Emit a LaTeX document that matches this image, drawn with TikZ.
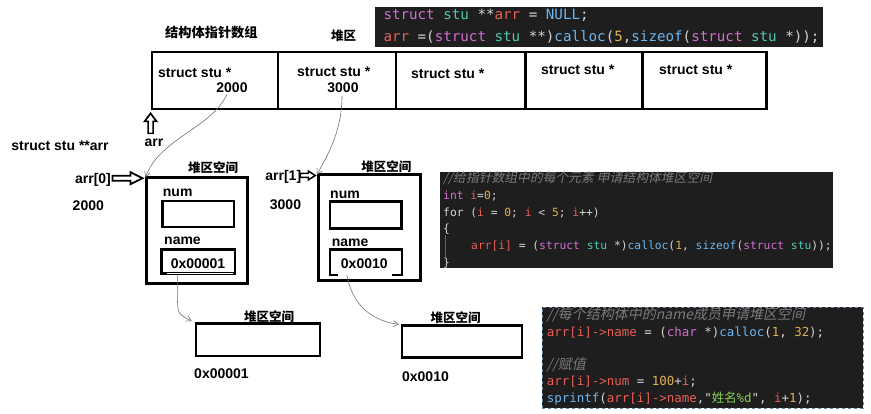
\documentclass[tikz,border=0pt]{standalone}
\usepackage{fontspec}
\setmainfont{Liberation Sans}
\newfontfamily\cjk{Noto Sans CJK SC}
\newfontfamily\cjksl{Noto Sans CJK SC}[FakeSlant=0.2]
\newfontfamily\mono{DejaVu Sans Mono}
\usetikzlibrary{arrows.meta,calc}
\definecolor{codebg}{HTML}{1E1E1E}
\definecolor{cpu}{HTML}{D4D4D4}
\definecolor{ckw}{HTML}{D16FD1}
\definecolor{cty}{HTML}{4EC9B0}
\definecolor{cva}{HTML}{EA5F57}
\definecolor{cfn}{HTML}{6CB6F0}
\definecolor{cnu}{HTML}{E0B050}
\definecolor{ccm}{HTML}{7A7A7A}
\definecolor{cst}{HTML}{8BD04E}
\definecolor{selb}{HTML}{6A88AA}
\newcommand{\Kw}[1]{\textcolor{ckw}{#1}}
\newcommand{\Ty}[1]{\textcolor{cty}{#1}}
\newcommand{\Va}[1]{\textcolor{cva}{#1}}
\newcommand{\Fn}[1]{\textcolor{cfn}{#1}}
\newcommand{\Nu}[1]{\textcolor{cnu}{#1}}
\newcommand{\St}[1]{\textcolor{cst}{#1}}
\begin{document}
\begin{tikzpicture}[x=1pt,y=-1pt,
  lab/.style={font=\bfseries\fontsize{14}{16}\selectfont, inner sep=0pt},
  cjklab/.style={font=\cjk\bfseries\fontsize{12.5}{14}\selectfont, inner sep=0pt},
  cell/.style={draw, line width=2.8pt, minimum height=57pt, inner sep=0pt},
  sbox/.style={draw, line width=3pt, inner sep=0pt},
  ibox/.style={draw, line width=2.6pt, inner sep=0pt},
  hollow/.style={draw=black, line width=1.7pt, fill=white, line join=miter},
  conn/.style={draw=black!55, line width=0.6pt, -{Straight Barb[length=5pt,width=6pt]}},
  codebox/.style={fill=codebg, inner sep=0pt},
  codeA/.style={font=\mono\fontsize{14.2}{16}\selectfont, anchor=west, inner sep=0pt, text=cpu, text height=10pt, text depth=3pt},
  codeB/.style={font=\mono\fontsize{11.3}{13}\selectfont, anchor=west, inner sep=0pt, text=cpu, text height=8pt, text depth=2.5pt},
  codeC/.style={font=\mono\fontsize{12.45}{14}\selectfont, anchor=west, inner sep=0pt, text=cpu, text height=9pt, text depth=2.5pt}
]
\useasboundingbox (0,0) rectangle (871,414);
\fill[white] (0,0) rectangle (871,414);

% code box 1
\node[codebox, minimum width=448pt, minimum height=40pt] (code1) at (598.5,27.5) {};
\node[codeA] (c1l1) at (383.3,16) {\Kw{struct} \Ty{stu} **\Va{arr} = \Fn{NULL};};
\node[codeA] (c1l2) at (383.3,38) {\Va{arr} =(\Kw{struct} \Ty{stu} **)\Fn{calloc}(\Nu{5},\Fn{sizeof}(\Kw{struct} \Ty{stu} *));};

% titles
\node[cjklab, font=\cjk\bfseries\fontsize{13.2}{15}\selectfont, anchor=west] (title) at (165,33) {结构体指针数组};
\node[cjklab, anchor=west] (heap) at (331,36) {堆区};

% array cells
\node[cell, minimum width=126pt] (c1) at (215,80.5) {};
\node[cell, minimum width=118pt] (c2) at (337,80.5) {};
\node[cell, minimum width=130pt] (c3) at (461,80.5) {};
\node[cell, minimum width=117pt] (c4) at (584.3,80.5) {};
\node[cell, minimum width=123.5pt] (c5) at (704.7,80.5) {};
\node[lab, anchor=west] (t1) at (158,73) {struct stu *};
\node[lab] (v1) at (232,88) {2000};
\node[lab, anchor=west] (t2) at (297,72) {struct stu *};
\node[lab] (v2) at (343,88) {3000};
\node[lab, anchor=west] (t3) at (411,74) {struct stu *};
\node[lab, anchor=west] (t4) at (541,70) {struct stu *};
\node[lab, anchor=west] (t5) at (659,70) {struct stu *};

% arr pointer
\draw[hollow] ([yshift=-3pt]c1.south west) -- ++(6,8) -- ++(-3.5,0) -- ++(0,12) -- ++(-5,0) -- ++(0,-12) -- ++(-3.5,0) -- cycle;
\node[lab] (arrlab) at (154,143) {arr};
\node[lab] (pp) at (60,146) {struct stu **arr};

% struct 1
\node[sbox, minimum width=101.7pt, minimum height=106.3pt] (s1) at (196.85,230.85) {};
\node[cjklab] (s1t) at (213,168) {堆区空间};
\node[lab, anchor=west] (s1num) at (162.7,193) {num};
\node[ibox, minimum width=71.3pt, minimum height=26pt] (num1) at (198.35,214) {};
\node[lab, anchor=west] (s1name) at (164,241) {name};
\node[ibox, minimum width=73.3pt, minimum height=24pt] (name1) at (198.35,261.3) {};
\draw[white, line width=2.4pt] ([xshift=7pt]name1.south west) -- ([xshift=-3pt]name1.south east);
\draw[black, line width=0.8pt] ([xshift=7pt,yshift=0.6pt]name1.south west) -- ([xshift=-3pt,yshift=0.6pt]name1.south east);
\node[lab, font=\fontsize{14}{16}\selectfont\bfseries] (name1v) at (198,263.3) {0x00001};
\node[lab] (a0) at (93,180) {arr[0]};
\node[lab] (a0v) at (88.3,205.5) {2000};
\draw[hollow] ([xshift=-2pt,yshift=-2pt]s1.north west) -- ++(-12,-6) -- ++(0,3.5) -- ++(-18,0) -- ++(0,5) -- ++(18,0) -- ++(0,3.5) -- cycle;

% struct 2
\node[sbox, minimum width=102.4pt, minimum height=105.7pt] (s2) at (369.5,227.85) {};
\node[cjklab] (s2t) at (386.3,166.7) {堆区空间};
\node[lab, anchor=west] (s2num) at (330,195) {num};
\node[ibox, minimum width=71.7pt, minimum height=26.6pt] (num2) at (365.85,215) {};
\node[lab, anchor=west] (s2name) at (331.7,243) {name};
\node[inner sep=0pt, minimum width=71.7pt, minimum height=25pt] (name2) at (365.85,262.5) {};
\draw[line width=2.6pt] ([xshift=8pt]name2.south west) -- (name2.south west) -- (name2.north west) -- (name2.north east) -- (name2.south east) -- ([xshift=-10pt]name2.south east);
\node[lab] (name2v) at (364.3,263.3) {0x0010};
\node[lab] (a1) at (283.3,176.7) {arr[1]};
\node[lab] (a1v) at (285.5,205) {3000};
\draw[hollow, line width=1.5pt] ([xshift=-1.5pt,yshift=-2pt]s2.north west) -- ++(-7,-4.5) -- ++(0,2.5) -- ++(-8,0) -- ++(0,4) -- ++(8,0) -- ++(0,2.5) -- cycle;

% heap boxes for names
\node[ibox, minimum width=124pt, minimum height=32.7pt] (h1) at (258,339.7) {};
\node[cjklab] (h1t) at (269,317) {堆区空间};
\node[lab] (h1v) at (221.5,374) {0x00001};
\node[ibox, minimum width=120pt, minimum height=32pt] (h2) at (462,341.7) {};
\node[cjklab] (h2t) at (455.5,318) {堆区空间};
\node[lab] (h2v) at (425.5,377) {0x0010};

% connectors
\draw[conn] ([xshift=-5pt,yshift=-1pt]v1.south) .. controls (212,128) and (160,138) .. ([xshift=1pt,yshift=-1pt]s1.north west);
\draw[conn] ([xshift=-1pt,yshift=-3pt]v2.south) .. controls (342,128) and (330,152) .. ([xshift=0pt,yshift=-1pt]s2.north west);
\draw[conn] ([xshift=-21pt]name1.south) -- ++(0,24) .. controls (178,314) .. ([xshift=-3pt,yshift=1pt]h1.north west);
\draw[conn] ([xshift=-19pt]name2.south) .. controls (352,302) and (368,320) .. ([xshift=-2pt,yshift=0pt]h2.north west);

% code box 2
\node[codebox, minimum width=393pt, minimum height=96.3pt] (code2) at (636.5,219.85) {};
\node[codeB, font=\cjksl\fontsize{12.8}{14}\selectfont, text=ccm] (c2l1) at (443,180) {//给指针数组中的每个元素 申请结构体堆区空间};
\node[codeB] (c2l2) at (443,196.7) {\Kw{int} \Va{i}=\Nu{0};};
\node[codeB] (c2l3) at (443,213.3) {for (\Va{i} = \Nu{0}; \Va{i} < \Nu{5}; \Va{i}++)};
\node[codeB] (c2l4) at (443,230) {\{};
\node[codeB] (c2l5) at (471,246.7) {\Va{arr[i]} = (\Kw{struct} \Ty{stu} *)\Fn{calloc}(\Nu{1}, \Fn{sizeof}(\Kw{struct} \Ty{stu}));};
\node[codeB] (c2l6) at (443,263.3) {\}};
\draw[black!60, line width=0.5pt] ([xshift=2pt]c2l4.south west) -- ([xshift=2pt]c2l6.north west);

% code box 3
\node[codebox, draw=selb, dashed, line width=0.6pt, minimum width=320.7pt, minimum height=100.7pt] (code3) at (702.65,357.65) {};
\node[codeC, font=\cjksl\fontsize{14}{15}\selectfont, text=ccm] (c3l1) at (546.7,316) {//每个结构体中的name成员申请堆区空间};
\node[codeC] (c3l2) at (546.7,333.3) {\Va{arr[i]->name} = (\Kw{char} *)\Fn{calloc}(\Nu{1}, \Nu{32});};
\node[codeC, font=\cjksl\fontsize{14}{15}\selectfont, text=ccm] (c3l3) at (546.7,366.7) {//赋值};
\node[codeC] (c3l4) at (546.7,382.7) {\Va{arr[i]->num} = \Nu{100}+\Va{i};};
\node[codeC] (c3l5) at (546.7,399) {\Fn{sprintf}(\Va{arr[i]->name},"{\cjk\St{姓名}}\St{\%d}", \Va{i}+\Nu{1});};
\end{tikzpicture}
\end{document}
